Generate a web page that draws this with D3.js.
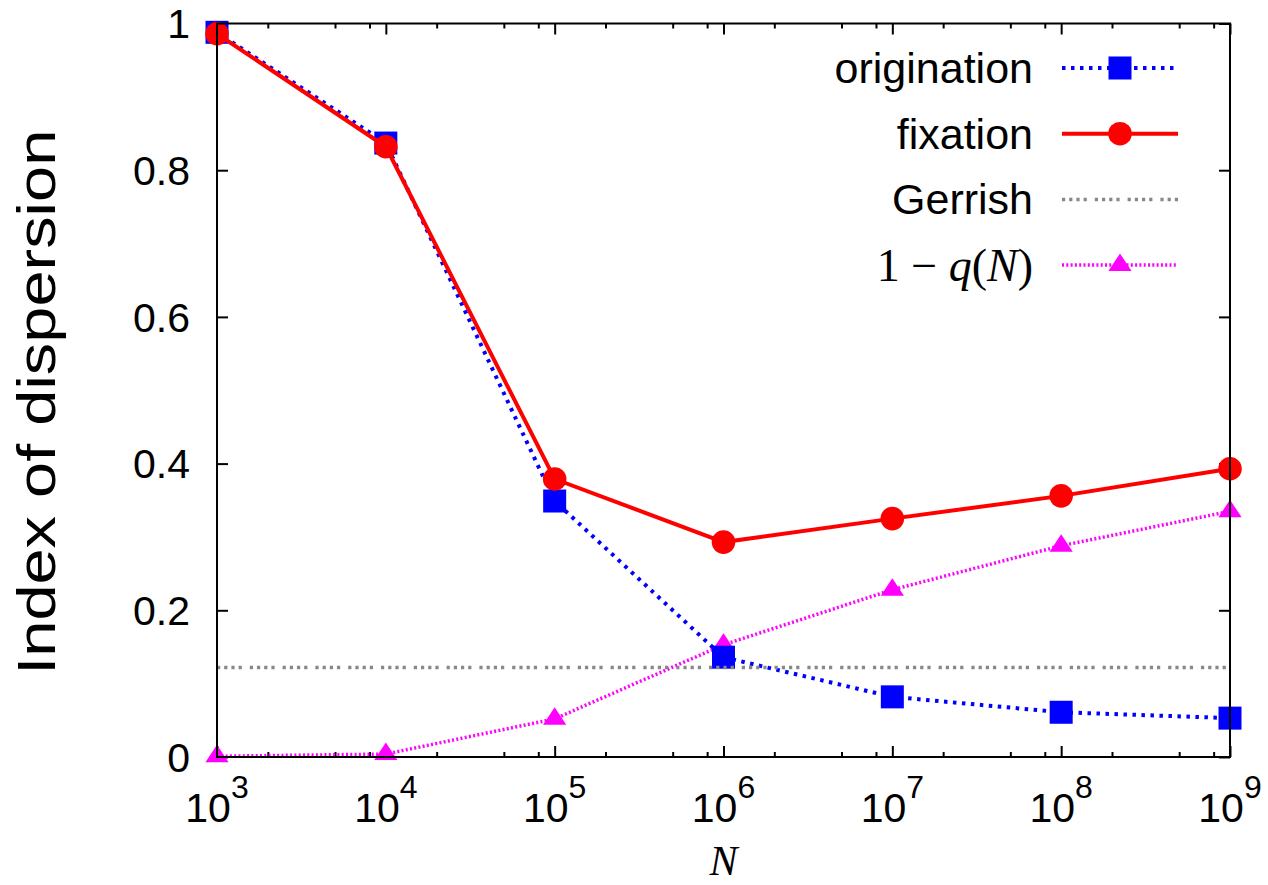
<!DOCTYPE html>
<html>
<head>
<meta charset="utf-8">
<script src="https://cdn.jsdelivr.net/npm/d3@7"></script>
<style>
  body { margin: 0; background: #fff; }
  .axis path { display: none; }
  .axis line { stroke: #000; stroke-width: 2; }
  text { font-family: "Liberation Sans", Arial, Helvetica, sans-serif; fill: #000; }
  .serif { font-family: "Liberation Serif", "DejaVu Serif", serif; }
</style>
</head>
<body>
<svg class="root"></svg>
<script>
var popSizes = [1e3, 1e4, 1e5, 1e6, 1e7, 1e8, 1e9];
var origination = [0.988, 0.837, 0.349, 0.136, 0.082, 0.061, 0.053];
var fixation = [0.986, 0.832, 0.379, 0.293, 0.325, 0.356, 0.393];
var oneMinusQ = [0.001, 0.004, 0.052, 0.153, 0.228, 0.288, 0.335];
var gerrish = 0.122;

var xMajorTicks = [1e3, 1e4, 1e5, 1e6, 1e7, 1e8, 1e9];
var xExponents = ["3", "4", "5", "6", "7", "8", "9"];
var xMinorMantissas = [2, 5, 8];
var yTicks = [0, 0.2, 0.4, 0.6, 0.8, 1];
var yTickLabels = ["0", "0.2", "0.4", "0.6", "0.8", "1"];

var width = 1268, height = 885;
var margin = {left: 217, right: 1230, top: 23.5, bottom: 757};

var svg = d3.select(".root")
  .attr("width", width)
  .attr("height", height);

var x = d3.scaleLog()
  .domain([1e3, 1e9])
  .range([margin.left, margin.right]);

var y = d3.scaleLinear()
  .domain([0, 1])
  .range([margin.bottom, margin.top]);

var xMinor = [];
xMajorTicks.slice(0, -1).forEach((d) => {
  xMinorMantissas.forEach((m) => { xMinor.push(d * m); });
});

// ticks on all four sides, pointing inwards
svg.append("g").attr("class", "axis")
  .attr("transform", "translate(0," + margin.bottom + ")")
  .call(d3.axisBottom(x).tickValues(xMajorTicks).tickSize(-11).tickFormat(""));
svg.append("g").attr("class", "axis")
  .attr("transform", "translate(0," + margin.bottom + ")")
  .call(d3.axisBottom(x).tickValues(xMinor).tickSize(-5).tickFormat(""));
svg.append("g").attr("class", "axis")
  .attr("transform", "translate(0," + margin.top + ")")
  .call(d3.axisTop(x).tickValues(xMajorTicks).tickSize(-11).tickFormat(""));
svg.append("g").attr("class", "axis")
  .attr("transform", "translate(0," + margin.top + ")")
  .call(d3.axisTop(x).tickValues(xMinor).tickSize(-5).tickFormat(""));
svg.append("g").attr("class", "axis")
  .attr("transform", "translate(" + margin.left + ",0)")
  .call(d3.axisLeft(y).tickValues(yTicks).tickSize(-11).tickFormat(""));
svg.append("g").attr("class", "axis")
  .attr("transform", "translate(" + margin.right + ",0)")
  .call(d3.axisRight(y).tickValues(yTicks).tickSize(-11).tickFormat(""));

// x tick labels 10^n
var xl = svg.append("g").selectAll("text")
  .data(xMajorTicks)
  .enter().append("text")
    .attr("x", (d) => x(d))
    .attr("y", 822)
    .attr("text-anchor", "middle")
    .style("font-size", "41px");
xl.append("tspan").text("10");
xl.append("tspan")
  .attr("dy", -24)
  .style("font-size", "32px")
  .text((d, i) => xExponents[i]);

svg.append("g").selectAll("text")
  .data(yTicks)
  .enter().append("text")
    .attr("x", 190)
    .attr("y", (d) => y(d))
    .attr("dy", "0.36em")
    .attr("text-anchor", "end")
    .style("font-size", "41px")
    .text((d, i) => yTickLabels[i]);

svg.append("text")
  .attr("transform", "translate(55," + ((margin.top + margin.bottom) / 2 + 12) + ") rotate(-90)")
  .attr("text-anchor", "middle")
  .attr("textLength", 545)
  .attr("lengthAdjust", "spacingAndGlyphs")
  .style("font-size", "53px")
  .text("Index of dispersion");

svg.append("text")
  .attr("class", "serif")
  .attr("x", (margin.left + margin.right) / 2)
  .attr("y", 875)
  .attr("text-anchor", "middle")
  .style("font-size", "42px")
  .style("font-style", "italic")
  .text("N");

var series = [
  { name: "1-q", values: oneMinusQ, color: "#ff00ff", width: 3.5, dash: "2 2.3", marker: "triangle" },
  { name: "origination", values: origination, color: "#0000ff", width: 4, dash: "3.5 5.5", marker: "square" },
  { name: "fixation", values: fixation, color: "#ff0000", width: 4, dash: null, marker: "circle" }
];

var line = d3.line()
  .x((d) => x(d[0]))
  .y((d) => y(d[1]));

var tri = "M0,-11.6L11.6,6L-11.6,6Z";

function drawMarker(g, kind, color) {
  if (kind === "square") {
    g.append("rect").attr("x", -11.5).attr("y", -11.5)
      .attr("width", 23).attr("height", 23).attr("fill", color);
  } else if (kind === "circle") {
    g.append("circle").attr("r", 11.8).attr("fill", color);
  } else {
    g.append("path").attr("d", tri).attr("fill", color);
  }
}

series.forEach((s) => {
  var pts = popSizes.map((n, i) => [n, s.values[i]]);
  svg.append("path")
    .datum(pts)
    .attr("d", line)
    .attr("fill", "none")
    .attr("stroke", s.color)
    .attr("stroke-width", s.width)
    .attr("stroke-dasharray", s.dash);
  svg.append("g").selectAll("g")
    .data(pts)
    .enter().append("g")
      .attr("transform", (d) => "translate(" + x(d[0]) + "," + y(d[1]) + ")")
      .each(function() { drawMarker(d3.select(this), s.marker, s.color); });
});

var gerrishDash = "3.2 4 3.2 4 3.2 4 3.2 8";
svg.append("line")
  .attr("x1", margin.left).attr("x2", margin.right)
  .attr("y1", y(gerrish)).attr("y2", y(gerrish))
  .attr("stroke", "#888")
  .attr("stroke-width", 3.5)
  .attr("stroke-dasharray", gerrishDash);

// frame
svg.append("rect")
  .attr("x", margin.left).attr("y", margin.top)
  .attr("width", margin.right - margin.left).attr("height", margin.bottom - margin.top)
  .attr("fill", "none")
  .attr("stroke", "#000")
  .attr("stroke-width", 2);

// legend
var legendRows = [
  { label: "origination", color: "#0000ff", width: 4, dash: "3.5 5.5", marker: "square" },
  { label: "fixation", color: "#ff0000", width: 4, dash: null, marker: "circle" },
  { label: "Gerrish", color: "#888", width: 3.5, dash: gerrishDash, marker: null },
  { label: "1-q", color: "#ff00ff", width: 3.5, dash: "2 2.3", marker: "triangle" }
];

var leg = svg.append("g").selectAll("g")
  .data(legendRows)
  .enter().append("g")
    .attr("transform", (d, i) => "translate(0," + (68 + i * 65.7) + ")");

leg.append("line")
  .attr("x1", 1062).attr("x2", 1178)
  .attr("stroke", (d) => d.color)
  .attr("stroke-width", (d) => d.width)
  .attr("stroke-dasharray", (d) => d.dash);

leg.each(function(d) {
  var g = d3.select(this);
  if (d.marker) drawMarker(g.append("g").attr("transform", "translate(1120,0)"), d.marker, d.color);
  var t = g.append("text")
    .attr("x", 1033)
    .attr("dy", "0.35em")
    .attr("text-anchor", "end")
    .style("font-size", "43px");
  if (d.label === "1-q") {
    t.attr("class", "serif").style("font-size", "46px");
    t.append("tspan").text("1 \u2212 ");
    t.append("tspan").style("font-style", "italic").text("q");
    t.append("tspan").text("(");
    t.append("tspan").style("font-style", "italic").text("N");
    t.append("tspan").text(")");
  } else {
    t.text(d.label);
  }
});
</script>
</body>
</html>
